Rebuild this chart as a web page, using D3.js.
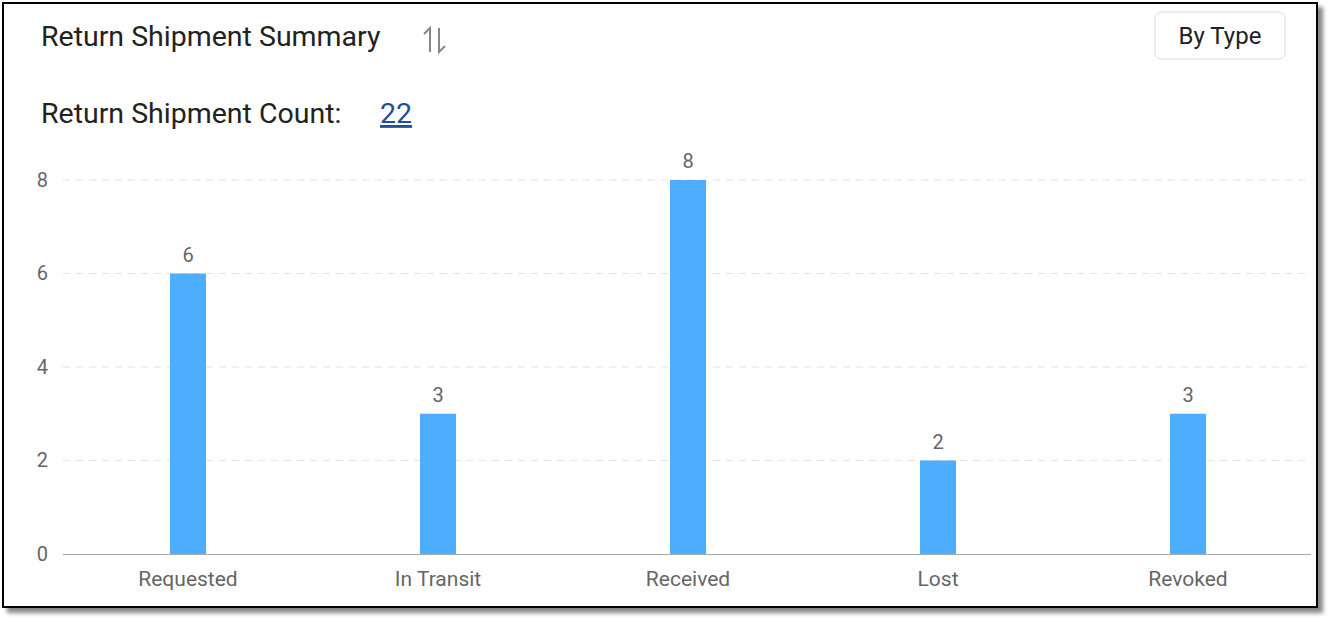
<!DOCTYPE html>
<html><head><meta charset="utf-8">
<script src="https://cdn.jsdelivr.net/npm/d3@7"></script>
<style>
body{margin:0;background:#fff;font-family:Roboto,sans-serif;}
</style></head>
<body><div id="chart"></div>
<script>
const categories = ["Requested", "In Transit", "Received", "Lost", "Revoked"];
const counts = [6, 3, 8, 2, 3];
const yTicks = [0, 2, 4, 6, 8];
const totalCount = 22;

const width = 1328, height = 620;
const svg = d3.select("#chart").append("svg")
    .attr("width", width).attr("height", height);

// shadow + frame
svg.append("rect").attr("x", 7).attr("y", 7).attr("width", 1316).attr("height", 606)
    .attr("fill", "#222").attr("opacity", 0.55).style("filter", "blur(2px)");
svg.append("rect").attr("x", 3).attr("y", 3).attr("width", 1314).attr("height", 604)
    .attr("fill", "#fff").attr("stroke", "#000").attr("stroke-width", 2);

svg.append("text").attr("x", 41).attr("y", 46).attr("font-size", 28.5).attr("fill", "#222")
    .text("Return Shipment Summary");
// sort icon
const ic = svg.append("g").attr("stroke", "#888").attr("stroke-width", 2).attr("fill", "none");
ic.append("path").attr("d", "M430 52 V28 L424 34");
ic.append("path").attr("d", "M439 28 V52 L445 46");

svg.append("text").attr("x", 41).attr("y", 123).attr("font-size", 28.5).attr("fill", "#222")
    .text("Return Shipment Count:");
svg.append("text").attr("x", 380).attr("y", 123).attr("font-size", 28.5).attr("fill", "#1f4e9a")
    .attr("text-decoration", "underline").text(totalCount);

// button
svg.append("rect").attr("x", 1155).attr("y", 12).attr("width", 130).attr("height", 47).attr("rx", 6)
    .attr("fill", "#fff").attr("stroke", "#dcdce0");
svg.append("text").attr("x", 1220).attr("y", 44).attr("text-anchor", "middle").attr("font-size", 24)
    .attr("fill", "#222").text("By Type");

const x = d3.scaleBand().domain(categories).range([63, 1313]);
const y = d3.scaleLinear().domain([0, 8]).range([554, 180]);

const grid = svg.append("g");
grid.selectAll("line").data(yTicks.filter(d => d > 0)).enter().append("line")
    .attr("x1", 63).attr("x2", 1311).attr("y1", d => y(d)).attr("y2", d => y(d))
    .attr("stroke", "#e3e3e3").attr("stroke-dasharray", "7,6");

const yAxis = svg.append("g").attr("transform", "translate(48,0)")
    .call(d3.axisLeft(y).tickValues(yTicks).tickSize(0).tickPadding(0));
yAxis.select(".domain").remove();
yAxis.selectAll("text").attr("font-size", 20).attr("fill", "#666").attr("font-family", "Roboto");

svg.selectAll(".bar").data(counts).enter().append("rect")
    .attr("x", (d, i) => x(categories[i]) + x.bandwidth() / 2 - 18)
    .attr("width", 36)
    .attr("y", d => y(d)).attr("height", d => y(0) - y(d))
    .attr("fill", "#4dadff");

svg.selectAll(".val").data(counts).enter().append("text")
    .attr("x", (d, i) => x(categories[i]) + x.bandwidth() / 2)
    .attr("y", d => y(d) - 12).attr("text-anchor", "middle")
    .attr("font-size", 20).attr("fill", "#666").text(d => d);

const xAxis = svg.append("g").attr("transform", "translate(0,554)")
    .call(d3.axisBottom(x).tickSize(0).tickPadding(17));
xAxis.select(".domain").attr("d", "M63,0.5H1311").attr("stroke", "#aaa");
xAxis.selectAll("text").attr("font-size", 21).attr("fill", "#666").attr("font-family", "Roboto");
</script></body></html>
